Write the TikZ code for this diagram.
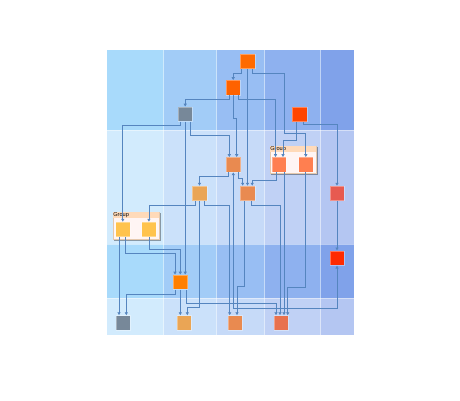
\documentclass[tikz,border=0pt]{standalone}
\usepackage{fontspec}
\setsansfont{Liberation Sans}
\usetikzlibrary{arrows.meta,shadows}

% lane colours
\definecolor{laneDa}{HTML}{A8DAFB}
\definecolor{laneDb}{HTML}{A2CCF7}
\definecolor{laneDc}{HTML}{98BEF3}
\definecolor{laneDd}{HTML}{8EB1EF}
\definecolor{laneDe}{HTML}{80A2EA}
\definecolor{lanePa}{HTML}{D2EBFD}
\definecolor{lanePb}{HTML}{CBE1FA}
\definecolor{lanePc}{HTML}{C6DAF8}
\definecolor{lanePd}{HTML}{C0D1F5}
\definecolor{lanePe}{HTML}{B4C6F2}
% node colours
\definecolor{orangeA}{HTML}{FF6A00}
\definecolor{orangeB}{HTML}{FF6200}
\definecolor{orangeC}{HTML}{FF4500}
\definecolor{orangeD}{HTML}{FF7F00}
\definecolor{redA}{HTML}{FF2A00}
\definecolor{redB}{HTML}{E75A50}
\definecolor{slate}{HTML}{778899}
\definecolor{clay}{HTML}{E98A50}
\definecolor{sand}{HTML}{EAA555}
\definecolor{brick}{HTML}{E8714F}
\definecolor{coral}{HTML}{FF7F50}
\definecolor{gold}{HTML}{FFC34D}
\definecolor{groupbody}{HTML}{FFF5F4}
\definecolor{grouphead}{HTML}{FFDAB9}
\definecolor{edgeblue}{HTML}{5585BF}

\begin{document}
\begin{tikzpicture}[x=1pt,y=-1pt,
  >={Latex[length=3pt,width=3.6pt]},
  box/.style={minimum size=14.5pt, inner sep=0pt, draw=white, draw opacity=0.35, line width=0.5pt},
  edge/.style={->, draw=edgeblue, line width=0.75pt},
  groupbox/.style={fill=groupbody, draw=grouphead!80!gray, line width=0.4pt, inner sep=0pt,
    drop shadow={shadow xshift=1.4pt, shadow yshift=-1.4pt, fill=black, opacity=0.35}},
  grouptitle/.style={fill=grouphead, minimum height=6pt, inner sep=0pt, inner xsep=0.6pt,
    anchor=north west, align=left, font=\sffamily\fontsize{5.6}{6}\selectfont}]

% canvas
\useasboundingbox (0,0) rectangle (460,400);
\fill[white] (0,0) rectangle (460,400);

% Parameters
\def\ya{49.5}  % top of lanes
\def\yb{130}
\def\yc{244}
\def\yd{298}
\def\ye{335}   % bottom of lanes

% Lanes
\foreach \xl/\xr/\cd/\cp in {107/163.5/laneDa/lanePa, 163.5/216.7/laneDb/lanePb,
    216.7/264.5/laneDc/lanePc, 264.5/320.7/laneDd/lanePd, 320.7/353.5/laneDe/lanePe}{
  \fill[\cd] (\xl,\ya) rectangle (\xr,\yb);
  \fill[\cp] (\xl,\yb) rectangle (\xr,\yc);
  \fill[\cd] (\xl,\yc) rectangle (\xr,\yd);
  \fill[\cp] (\xl,\yd) rectangle (\xr,\ye);
}
\foreach \x in {163.5,216.7,264.5,320.7}
  \draw[white, opacity=0.45, line width=0.7pt] (\x,\ya) -- (\x,\ye);
\foreach \y in {\yb,\yc,\yd}
  \draw[white, opacity=0.45, line width=0.7pt] (107,\y) -- (353.5,\y);

% Groups
\node[groupbox, minimum width=46.5pt, minimum height=27.5pt] (grpA) at (136,225.7) {};
\node[grouptitle, text width=45.3pt] (grpAt) at (grpA.north west) {Group};
\node[groupbox, minimum width=46.5pt, minimum height=27.5pt] (grpB) at (293,159.7) {};
\node[grouptitle, text width=45.3pt] (grpBt) at (grpB.north west) {Group};

% Nodes
\node[box, fill=orangeA] (n1) at (247.5,61.3) {};
\node[box, fill=orangeB] (n2) at (233.2,87.7) {};
\node[box, fill=slate]   (n3) at (185.2,114.2) {};
\node[box, fill=orangeC] (n4) at (299.7,114.3) {};
\node[box, fill=clay]    (n5) at (233.3,164.7) {};
\node[box, fill=coral]   (g2a) at (279.2,164.7) {};
\node[box, fill=coral]   (g2b) at (305.8,164.7) {};
\node[box, fill=sand]    (n6) at (199.5,193.3) {};
\node[box, fill=clay]    (n7) at (247.7,193.3) {};
\node[box, fill=redB]    (n8) at (337,193.3) {};
\node[box, fill=gold]    (g1a) at (122.8,229.3) {};
\node[box, fill=gold]    (g1b) at (148.9,229.3) {};
\node[box, fill=redA]    (n9) at (337,258) {};
\node[box, fill=orangeD] (n10) at (180.3,282.2) {};
\node[box, fill=slate]   (b1) at (123,322.8) {};
\node[box, fill=sand]    (b2) at (184,322.8) {};
\node[box, fill=clay]    (b3) at (235,322.8) {};
\node[box, fill=brick]   (b4) at (281.2,322.8) {};

% Edges from the top rows
\draw[edge] ([xshift=-6pt]n1.south) -- ++(0,4.5) -| (n2.north);
\draw[edge] (n1.south) -- (n1.south |- n7.north);
\draw[edge] ([xshift=5pt]n1.south) -- ++(0,4.5) -| (284.5,133) -| (g2b.north);
\draw[edge] ([xshift=-4.2pt]n2.south) -- ++(0,4.5) -| (n3.north);
\draw[edge] (n2.south) -- ++(0,23) -| ([xshift=3.4pt]n5.north);
\draw[edge] ([xshift=4.8pt]n2.south) -- ++(0,4.5) -| ([xshift=-3.7pt]g2a.north);
\draw[edge] ([xshift=-5.2pt]n3.south) -- ++(0,3.8) -| (g1a.north);
\draw[edge] (n3.south) -- (n3.south |- n10.north);
\draw[edge] ([xshift=4.8pt]n3.south) -- ++(0,13.5) -| ([xshift=-4pt]n5.north);
\draw[edge] ([xshift=-3pt]n4.south) -- ++(0,18.5) -| ([xshift=3.8pt]g2a.north);
\draw[edge] ([xshift=3.3pt]n4.south) -- ++(0,2.8) -| (n8.north);

% Edges from the middle rows
\draw[edge] ([xshift=-4.8pt]n5.south) -- ++(0,4) -| (n6.north);
\draw[edge] ([xshift=5.2pt]n5.south) -- ++(0,6) -| ([xshift=-5pt]n7.north);
\draw[edge] ([xshift=-3.2pt]g2a.south) -- ++(0,8) -| ([xshift=4.5pt]n7.north);
\draw[edge] ([xshift=4.8pt]g2a.south) -- ([xshift=2.8pt]b4.north);
\draw[edge] (g2b.south) -- ++(0,114.7) -| ([xshift=6.5pt]b4.north);
\draw[edge] (n8.south) -- (n9.north);
\draw[edge] ([xshift=-4.5pt]n6.south) -- ++(0,4.3) -| (g1b.north);
\draw[edge] (n6.south) -- ++(0,106.5) -| ([xshift=3.3pt]b2.north);
\draw[edge] ([xshift=5pt]n6.south) -- ++(0,4.3) -| ([xshift=-5.3pt]b3.north);
\draw[edge] ([xshift=-3.7pt]n7.south) -- ++(0,86) -| ([xshift=2pt]b3.north);
\draw[edge] ([xshift=4pt]n7.south) -- ++(0,4.3) -| ([xshift=-1.2pt]b4.north);
\draw[edge, <->] (n5.south) -- ++(0,136) -| (n9.south);

% Edges into the bottom row
\draw[edge] ([xshift=-3.8pt]g1a.south) -- ([xshift=-4pt]b1.north);
\draw[edge] ([xshift=3pt]g1a.south) -- ++(0,17) -| ([xshift=-5.3pt]n10.north);
\draw[edge] (g1b.south) -- ++(0,12.2) -| (n10.north);
\draw[edge] ([xshift=-5.3pt]n10.south) -- ++(0,4.3) -| ([xshift=3.3pt]b1.north);
\draw[edge] (n10.south) -- (n10.south |- b2.north);
\draw[edge] ([xshift=5.7pt]n10.south) -- ++(0,14) -| ([xshift=-5.2pt]b4.north);

\end{tikzpicture}
\end{document}
